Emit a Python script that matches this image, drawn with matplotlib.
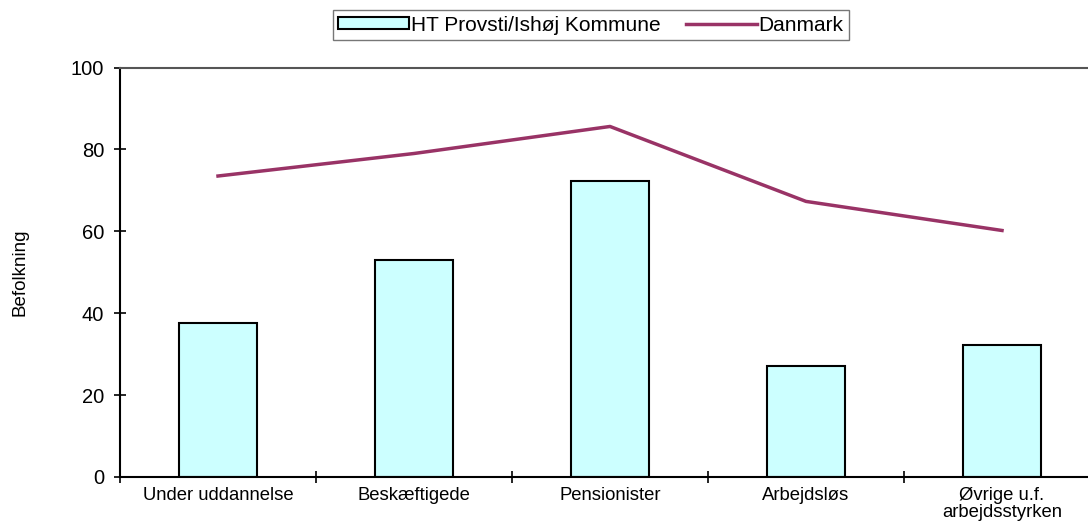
import matplotlib
matplotlib.use("Agg")
import matplotlib.pyplot as plt
from matplotlib.ticker import FixedLocator

plt.rcParams['font.family'] = ['Liberation Sans', 'DejaVu Sans']

categories = ["Under uddannelse", "Beskæftigede", "Pensionister", "Arbejdsløs", "Øvrige u.f.\narbejdsstyrken"]
ht_values = [37.7, 53.1, 72.4, 27.1, 32.3]
dk_values = [73.5, 79.0, 85.6, 67.3, 60.2]
yticks = [0, 20, 40, 60, 80, 100]

fig = plt.figure(figsize=(10.88, 5.28), dpi=100)
ax = fig.add_axes([120/1088, 51/528, 980/1088, 409.5/528])

x = [i + 0.5 for i in range(len(categories))]
bars = ax.bar(x, ht_values, width=0.4, color="#CCFFFF", edgecolor="black", linewidth=1.5,
              label="HT Provsti/Ishøj Kommune", zorder=2)
line, = ax.plot(x, dk_values, color="#993366", linewidth=2.5, label="Danmark", zorder=3)

ax.set_xlim(0, len(categories))
ax.set_ylim(0, 100)
ax.set_yticks(yticks)
ax.set_yticklabels([str(v) for v in yticks], fontsize=14.5)
ax.xaxis.set_major_locator(FixedLocator(list(range(len(categories) + 1))))
ax.set_xticklabels([""] * (len(categories) + 1))
ax.xaxis.set_minor_locator(FixedLocator(x))
ax.set_xticklabels(categories, minor=True, fontsize=13.3, linespacing=1.0)
ax.tick_params(axis='x', which='minor', length=0, pad=7)
ax.tick_params(axis='both', which='major', direction='inout', length=9, width=1.2, color='black')
ax.tick_params(axis='y', pad=7)

ax.spines['left'].set_linewidth(1.5)
ax.spines['bottom'].set_linewidth(1.5)
ax.spines['top'].set_color('#555555')
ax.spines['top'].set_linewidth(1.5)
ax.spines['right'].set_visible(False)

ax.set_ylabel("Befolkning", fontsize=13.5, labelpad=30)

leg = fig.legend(handles=[bars, line], labels=["HT Provsti/Ishøj Kommune", "Danmark"],
                 loc='center', bbox_to_anchor=(591/1088, 1 - 25/528), ncol=2, fontsize=15,
                 frameon=True, fancybox=False, edgecolor='#555555', handlelength=3.4,
                 handleheight=0.55, columnspacing=1.2, handletextpad=0.1, borderpad=0.25)
leg.get_frame().set_linewidth(1.0)

fig.savefig("out.png", dpi=100)
